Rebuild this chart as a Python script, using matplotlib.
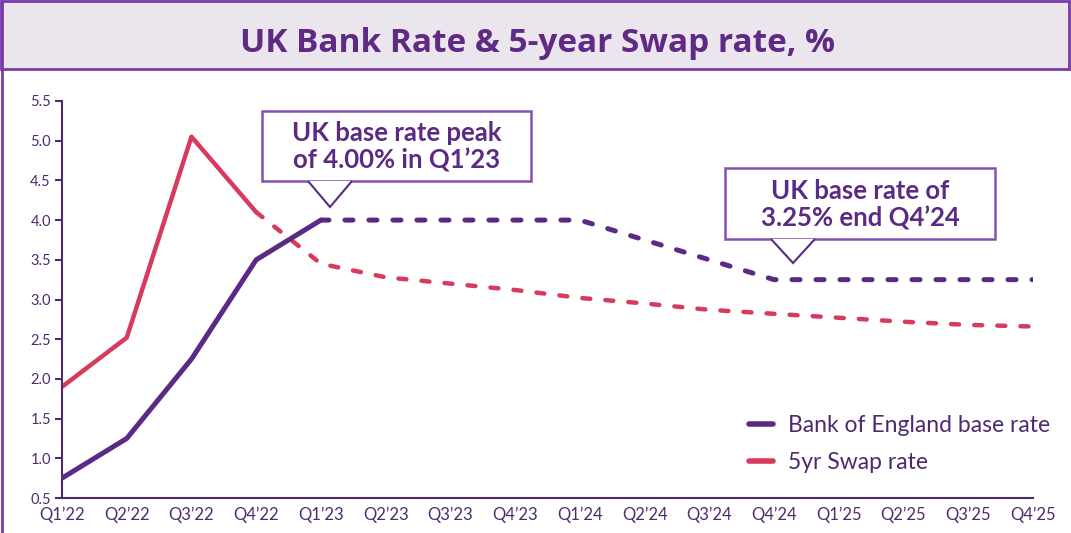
import matplotlib
matplotlib.use("Agg")
import matplotlib.pyplot as plt
from matplotlib.patches import Rectangle, Polygon
from matplotlib.lines import Line2D

quarters = ["Q1\u201922", "Q2\u201922", "Q3\u201922", "Q4\u201922", "Q1\u201923", "Q2\u201923",
            "Q3\u201923", "Q4\u201923", "Q1\u201924", "Q2\u201924", "Q3\u201924", "Q4\u201924",
            "Q1\u201925", "Q2\u201925", "Q3\u201925", "Q4\u201925"]
bank_rate = [0.75, 1.25, 2.25, 3.5, 4.0, 4.0, 4.0, 4.0, 4.0, 3.75, 3.5, 3.25,
             3.25, 3.25, 3.25, 3.25]
swap_rate = [1.9, 2.52, 5.05, 4.1, 3.45, 3.28, 3.2, 3.12, 3.02, 2.95, 2.87, 2.82,
             2.77, 2.72, 2.68, 2.66]
bank_actual_end = 4   # index of last actual point (Q1'23)
swap_actual_end = 3   # Q4'22
y_ticks = [0.5, 1.0, 1.5, 2.0, 2.5, 3.0, 3.5, 4.0, 4.5, 5.0, 5.5]

PURPLE = "#5a2a84"
RED = "#d83a5c"
TEXT = "#4d2a6e"
BORDER = "#7a3aa8"
BANNER = "#ebe5ee"

W, H = 1071, 533
fig = plt.figure(figsize=(W / 100, H / 100), dpi=100)
fig.patch.set_facecolor("white")

def fx(px):
    return px / W

def fy(py):
    return 1 - py / H

# banner
fig.patches.append(Rectangle((fx(1), fy(69)), fx(1068), 68 / H, transform=fig.transFigure,
                             facecolor=BANNER, edgecolor=BORDER, lw=2, zorder=0))
fig.add_artist(Line2D([fx(1.5), fx(1.5)], [0, 1], color=BORDER, lw=2, transform=fig.transFigure))
fig.text(fx(537), fy(43), "UK Bank Rate & 5-year Swap rate, %", ha="center", va="center",
         fontsize=24, fontweight="bold", color="#5e2a84", family="Open Sans")

ax = fig.add_axes([fx(62), fy(498), fx(1033 - 62), (498 - 101) / H])
x = list(range(len(quarters)))

lw_b = 3.6
lw_s = 3.2
ax.plot(x[:bank_actual_end + 1], bank_rate[:bank_actual_end + 1], color=PURPLE, lw=lw_b,
        solid_capstyle="round", solid_joinstyle="round", zorder=3)
ax.plot(x[bank_actual_end:], bank_rate[bank_actual_end:], color=PURPLE, lw=lw_b,
        dashes=(1.6, 3.2), dash_capstyle="round", zorder=3)
ax.plot(x[:swap_actual_end + 1], swap_rate[:swap_actual_end + 1], color=RED, lw=lw_s,
        solid_capstyle="round", solid_joinstyle="round", zorder=2)
ax.plot(x[swap_actual_end:], swap_rate[swap_actual_end:], color=RED, lw=lw_s,
        dashes=(1.8, 3.4), dash_capstyle="round", zorder=2)

ax.set_xlim(0, len(quarters) - 1)
ax.set_ylim(0.5, 5.5)
ax.set_yticks(y_ticks)
ax.set_yticklabels([f"{v:.1f}" for v in y_ticks])
ax.set_xticks(x)
ax.set_xticklabels(quarters)
for s in ["top", "right"]:
    ax.spines[s].set_visible(False)
for s in ["left", "bottom"]:
    ax.spines[s].set_color(TEXT)
    ax.spines[s].set_linewidth(1.5)
ax.tick_params(axis="y", length=5, width=1.5, color=TEXT, labelcolor=TEXT, labelsize=10.5, pad=3)
ax.tick_params(axis="x", length=0, labelcolor=TEXT, labelsize=12, pad=6)
for lab in ax.get_xticklabels() + ax.get_yticklabels():
    lab.set_family("Lato")
ax.patch.set_alpha(0)

# legend
fig.legend([Line2D([], [], color=PURPLE, lw=4, solid_capstyle="round"),
            Line2D([], [], color=RED, lw=4, solid_capstyle="round")],
           ["Bank of England base rate", "5yr Swap rate"],
           loc="center left", bbox_to_anchor=(fx(749), fy(444)), frameon=False,
           borderpad=0, borderaxespad=0,
           prop={"family": "Lato", "size": 16.5}, labelcolor=TEXT, handlelength=1.05,
           handletextpad=0.65, labelspacing=0.7)

# callouts
def callout(x0, y0, x1, y1, tx, ty_tip, lines):
    fig.patches.append(Rectangle((fx(x0), fy(y1)), fx(x1 - x0), (y1 - y0) / H,
                                 transform=fig.transFigure, facecolor="white",
                                 edgecolor="#8350b0", lw=1.8, zorder=5))
    tri = Polygon([(fx(tx - 22), fy(y1)), (fx(tx), fy(ty_tip)), (fx(tx + 22), fy(y1))],
                  closed=False, transform=fig.transFigure, facecolor="white",
                  edgecolor=PURPLE, lw=1.5, zorder=6)
    fig.patches.append(tri)
    fig.text(fx((x0 + x1) / 2), fy((y0 + y1) / 2 + 1), lines, ha="center", va="center",
             fontsize=18.5, fontweight="bold", color="#5a2a84", family="Lato",
             linespacing=1.15, zorder=7)

callout(262, 111, 531, 181, 330, 207, "UK base rate peak\nof 4.00% in Q1\u201923")
callout(725, 168, 995, 239, 793, 263, "UK base rate of\n3.25% end Q4\u201924")

fig.savefig("out.png", dpi=100)
